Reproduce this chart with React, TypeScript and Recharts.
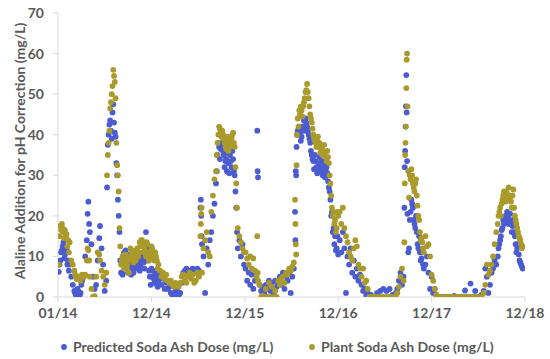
import React from 'react';
import { ScatterChart, Scatter, XAxis, YAxis, Legend } from 'recharts';

const FONT = 'Lato, "Open Sans", sans-serif';
const TEXT = '#595959';
const AXIS = '#d9d9d9';
const BLUE = '#4b5bd0';
const OLIVE = '#aa9a2c';

const xTickMonths = [0, 12, 24, 36, 48, 60];
const xTickLabels = ['01/14', '12/14', '12/15', '12/16', '12/17', '12/18'];
const yTicks = [0, 10, 20, 30, 40, 50, 60, 70];
const Y_TITLE = 'Alaline Addition for pH Correction (mg/L)';
const PRED_NAME = 'Predicted Soda Ash Dose (mg/L)';
const PLANT_NAME = 'Plant Soda Ash Dose (mg/L)';

// months since 01/14
const months2014 = [0.1,0.3,0.5,0.7,0.9,1.1,1.3,1.5,1.7,1.9,2.1,2.3,2.5,2.7,2.9,3.1,3.3,3.5,3.7,3.8,3.9,4.0,4.1,4.3,4.5,4.7,4.9,5.1,5.3,5.4,5.6,5.8,6.0,6.2,6.3,6.4,6.5,6.6,6.7,6.8,6.9,7.0,7.1,7.2,7.3,7.4,7.5,7.6,7.7,7.8,7.9,8.0,8.1,8.3,8.5,8.7,8.9,9.1,9.3,9.5,9.7,9.9,10.1,10.3,10.5,10.7,10.9,11.1,11.3,11.5,11.7,11.9];
const predicted2014 = [6.2,9,11.5,13.5,10.5,12,9,8,5,3,1.5,0.5,2,0.3,1,4,5,10,14,20.5,23.5,18,16,13,5,2,3,9,14.5,17.5,12,8,1.5,4,27,37.5,40,42.5,43.5,41,39,45.5,47.5,43,40.5,39.5,33,30,24,20,16,9,6,5.5,11,11.5,9,8,10.5,7,6,8,9.5,8,6.5,9,11,7,16,11,6.5,3];
const plant2014 = [8,17.5,18,16,16.5,15.5,14,13.5,9,8,6.5,5,4.5,5,4,5.5,5,5.5,9,12,11.5,9,5,2,0,0.2,5,11,10.5,9,6.5,5,3,6,30,35,38,41,46.5,48,50,52,56,54.5,53,49,38,32.5,30,26,17,12.5,8,10,7,9,8,6,12,11,8.5,9.5,11,10,13.5,14,13,12,10,13,9,11];

const months2015 = [12.1,12.3,12.5,12.7,12.9,13.1,13.3,13.5,13.7,13.9,14.1,14.3,14.5,14.7,14.9,15.1,15.3,15.5,15.7,15.9,16.1,16.3,16.5,16.7,16.9,17.1,17.3,17.5,17.7,17.9,18.1,18.3,18.35,18.4,18.45,18.5,18.7,18.9,19.1,19.3,19.5,19.7,19.9,20.1,20.3,20.5,20.7,20.9,21.1,21.3,21.5,21.7,21.9,22.1,22.3,22.5,22.7,22.9,23.0,23.1,23.3,23.5,23.7,23.9];
const predicted2015 = [5,4.5,6,3,4,5.5,3,4.5,2,3.5,2,2.5,1,0.5,0.3,1.5,2,0.5,1,3.5,6,6.5,7,6.5,6,6.5,7,6.5,6,7,6.5,22,24,20,15,13,10,1,12,8,14,16,20,23,28,35,37,36.5,38,35,33.5,31,33,35,32,34,30,22,16,12,14,10,13,8];
const plant2015 = [12,10.5,11,9,8,6.5,5,6,4.5,5.5,4,3.5,4,3,2.5,3.5,3,2.5,3.5,5,5.5,4,3.5,5,6,4.5,5.5,3.5,4,6,5,15,18,20.5,22,6,12,14,16,11,10,21,25,29,31,38,42,40.5,41,39,37.5,38.5,36,37.5,39,40.5,37,28,22,17,15,13.5,12,11];

const months2016 = [24.1,24.3,24.5,24.7,24.9,25.1,25.3,25.5,25.6,25.65,25.7,25.9,26.1,26.3,26.5,26.7,26.9,27.1,27.3,27.5,27.7,27.9,28.1,28.3,28.5,28.7,28.9,29.1,29.3,29.5,29.7,29.9,30.1,30.3,30.45,30.5,30.55,30.6,30.65,30.7,30.8,30.9,31.0,31.2,31.4,31.6,31.8,32.0,32.2,32.4,32.6,32.8,33.0,33.2,33.4,33.6,33.8,34.0,34.2,34.4,34.6,34.8,35.0,35.2,35.4,35.6,35.8,36.0];
const predicted2016 = [7,4,6,3,5.5,2,4,6,41,31,29.5,3,1.5,2.5,1,3,2,4,1.5,3.5,1,4,2.5,3,5,3,6,2,5,4,6,1,5,7,21,14,31,30,37,40,41,40.5,42,38.5,41,43.5,44,42,40,38,35,33.5,35,32,31,34.5,32,30,33,31,30.5,27,24,21,17,15,12,10.5];
const plant2016 = [11,9.5,8,10,7,9.5,6.5,5,15,6,4,3,0,0.3,0,2,0,3.5,0,2.5,0,1.5,0,4,3,4.5,5,3.5,6,5.5,7,6.5,7.5,8.5,24,18,13,10.5,32.5,40,44,42,46,47,44.5,48,50.5,52.5,49,45,43,40,38.5,37,39.5,38,36.5,35,37.5,34.5,36,33,28,22,21,19,17,20];

const months2017 = [36.2,36.4,36.6,36.8,37.0,37.2,37.4,37.6,37.8,38.0,38.2,38.4,38.6,38.8,39.0,39.2,39.4,39.6,39.8,40.0,40.2,40.6,41.0,41.4,41.8,42.2,42.6,43.0,43.4,43.6,43.8,44.0,44.2,44.4,44.5,44.55,44.6,44.65,44.7,44.75,44.8,44.85,44.9,45.0,45.1,45.2,45.4,45.6,45.8,46.0,46.2,46.4,46.6,46.8,47.0,47.2,47.4,47.6,47.8,48.0];
const predicted2017 = [14,11,16,12,1,10,8,12,6,9,5,7,4,5.5,3,1.5,2,0.5,1,0.2,0.5,0,1,1.5,2,1.5,2,0.5,1,2,4,6,3,5,22,32,36,42,47,54.7,45.5,33.5,20.5,11,12,19,24,22,18,20,13,15,9,11,7,8,10,6,2,5];
const plant2017 = [21,18,22,17,15,13.5,11,10,9,12,14,12.5,8,7,5,7,3.5,4,2,0,0,0,0,0,0,0,0,0,0,1,2.5,5,7,4,13.5,28,35,38,42,51.5,58.5,60,47,31,24.5,30,31.5,28,26,29,22.5,19,14,13.5,11,15,12.5,13,10,5.5];

const months2018 = [48.2,48.4,48.6,48.8,49.0,49.3,49.7,50.1,50.5,50.9,51.3,51.7,52.1,52.3,52.7,53.0,53.4,53.6,54.0,54.4,54.7,54.9,55.1,55.3,55.5,55.7,55.9,56.1,56.3,56.5,56.7,56.9,57.1,57.3,57.5,57.7,57.9,58.1,58.3,58.5,58.7,58.9,59.1,59.3,59.5,59.7];
const predicted2018 = [1,2,0.5,0,0,0,0,0,0,0.3,0,0,0,1.6,0,3.3,0,1.5,0,0.5,1.5,7,5,1,3,6,7,9,8,10,13,15,17,18,20,21,18,20.5,16,19,15,11,13,9,8,7];
const plant2018 = [4,2,0.5,0,0,0,0,0,0,0,0,0,0,0,0,0,0,0,0,0,1,3,8,5.5,6.5,8,10,13,16,18,21,20,24,26,23.5,25.5,27,24,22,26.5,20,18,16,14.5,13,12.5];

// extra readings in the dense bands
const monthsExtra = [0.2,0.4,0.6,0.8,1.0,1.2,1.4,2.2,2.4,2.6,2.8,3.0,8.2,8.4,8.6,8.8,9.0,9.2,9.4,9.6,9.8,10.0,10.2,10.4,10.6,10.8,11.0,11.2,11.4,11.6,11.8,12.0,12.2,12.4,12.6,12.8,20.4,20.6,20.8,21.0,21.2,21.4,21.6,21.8,22.0,22.2,22.4,22.6,22.8,31.1,31.3,31.5,31.7,31.9,32.1,32.3,32.5,32.7,32.9,33.1,33.3,33.5,33.7,33.9,34.1,34.3,34.5,34.7,34.9,35.1,35.3,35.5,35.7,35.9,45.3,45.5,45.7,45.9,46.1,46.3,46.5,46.7,46.9,56.6,56.8,57.0,57.2,57.4,57.6,57.8,58.0,58.2,58.4,58.6,58.8,59.0,59.2,59.4,59.6];
const predictedExtra = [8,11,12.5,9.5,11,8,6.5,1,0.5,1.5,0.5,3,6,10,9,7.5,6,9,5.5,8,10,7,9,7,8,10,8.5,9,12,9,5,7,6.5,3.5,5,2.5,31,38,34,37.5,36,32,34,35.5,30.5,33.5,36,31,26,40,39.5,42,41,43,41,39,36,34,31.5,33.5,30.5,33,31,33.5,31.5,29.5,32,28.5,26,20,16,13,11.5,15,21,23,19,17,16,12,11,9.5,8,12,14,16.5,19,18.5,19.5,20,19,18,17.5,16,13,12,10.5,8.5,7.5];
const plantExtra = [15,16.5,17,14.5,15,12.5,11,5.5,4.5,5,4.5,5,9,8,10.5,7,9,10,9,10,11.5,9,12,11,12.5,14,11,11.5,13.5,11,10,12.5,10,9,10,7,35,40,41.5,39.5,40,38,36.5,39.5,37,38,40,38,32,45,46,47,49,51,50.5,47,44,41.5,39,38,38.5,37,35.5,37,36,35.5,33.5,34.5,30,25,20,18,16,21,29,30,27,28,25,20,16,14.5,12,20,22,23,25,24.5,26,24,25,23.5,25,22,19,17,15,14,12];

const months = [...months2014, ...months2015, ...months2016, ...months2017, ...months2018, ...monthsExtra];
const predicted = [...predicted2014, ...predicted2015, ...predicted2016, ...predicted2017, ...predicted2018, ...predictedExtra];
const plant = [...plant2014, ...plant2015, ...plant2016, ...plant2017, ...plant2018, ...plantExtra];

const predictedData = months.map((m, i) => ({ m, v: predicted[i] }));
const plantData = months.map((m, i) => ({ m, v: plant[i] }));

const dot = (color: string) => (props: any) =>
  props.cx == null ? null : <circle cx={props.cx} cy={props.cy} r={2.9} fill={color} />;

const tickStyle = { fill: TEXT, fontSize: 14, fontWeight: 700, fontFamily: FONT };

const renderLegend = () => (
  <div style={{ position: 'relative', width: 550, height: 24, fontFamily: FONT, fontWeight: 700, fontSize: 14, color: TEXT }}>
    <div style={{ position: 'absolute', left: 59, top: 3, display: 'flex', alignItems: 'center', whiteSpace: 'nowrap' }}>
      <svg width={10} height={10}><circle cx={5} cy={5} r={2.9} fill={BLUE} /></svg>
      <span style={{ marginLeft: 4 }}>{PRED_NAME}</span>
    </div>
    <div style={{ position: 'absolute', left: 307, top: 3, display: 'flex', alignItems: 'center', whiteSpace: 'nowrap' }}>
      <svg width={10} height={10}><circle cx={5} cy={5} r={2.9} fill={OLIVE} /></svg>
      <span style={{ marginLeft: 4 }}>{PLANT_NAME}</span>
    </div>
  </div>
);

export default function App() {
  return (
    <div style={{ position: 'absolute', left: 0, top: 0, width: 550, height: 359, background: '#fff' }}>
      <ScatterChart width={550} height={359} margin={{ top: 13, right: 25, bottom: 0, left: 0 }}>
        <XAxis
          type="number"
          dataKey="m"
          domain={[0, 60]}
          ticks={xTickMonths}
          interval={0}
          allowDataOverflow
          tickFormatter={(v: number) => xTickLabels[xTickMonths.indexOf(v)] ?? ''}
          height={38}
          tickSize={5}
          tickMargin={6}
          axisLine={{ stroke: AXIS }}
          tickLine={{ stroke: AXIS }}
          tick={tickStyle}
        />
        <YAxis
          type="number"
          dataKey="v"
          domain={[0, 70]}
          ticks={yTicks}
          interval={0}
          allowDataOverflow
          width={58}
          tickSize={5}
          tickMargin={9}
          axisLine={{ stroke: AXIS }}
          tickLine={{ stroke: AXIS }}
          tick={tickStyle}
          label={{
            content: () => (
              <text
                x={19}
                y={151}
                transform="rotate(-90, 19, 151)"
                textAnchor="middle"
                dominantBaseline="central"
                fill={TEXT}
                fontSize={14}
                fontWeight={700}
                fontFamily={FONT}
              >
                {Y_TITLE}
              </text>
            ),
          }}
        />
        <Legend verticalAlign="bottom" align="left" wrapperStyle={{ left: 0, width: 550, height: 24 }} content={renderLegend} />
        <Scatter name={PRED_NAME} data={predictedData} fill={BLUE} shape={dot(BLUE)} isAnimationActive={false} />
        <Scatter name={PLANT_NAME} data={plantData} fill={OLIVE} shape={dot(OLIVE)} isAnimationActive={false} />
      </ScatterChart>
    </div>
  );
}
